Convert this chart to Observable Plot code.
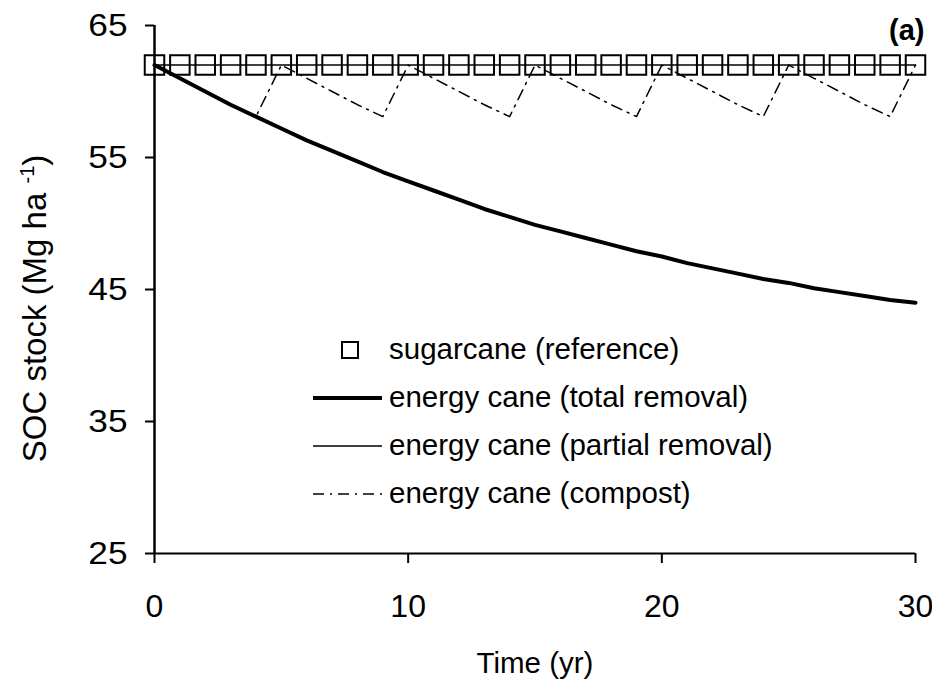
<!DOCTYPE html>
<html>
<head>
<meta charset="utf-8">
<script src="https://cdn.jsdelivr.net/npm/d3@7"></script>
<script src="https://cdn.jsdelivr.net/npm/@observablehq/plot@0.6"></script>
<style>
  body { margin: 0; background: white; }
  #wrap { position: relative; width: 932px; height: 688px; font-family: "Liberation Sans", Arial, sans-serif; }
  .leg { position: absolute; font-size: 29.5px; line-height: 30px; white-space: nowrap; color: #000; }
  .sw { position: absolute; }
</style>
</head>
<body>
<div id="wrap"></div>
<script>
const years = [0,1,2,3,4,5,6,7,8,9,10,11,12,13,14,15,16,17,18,19,20,21,22,23,24,25,26,27,28,29,30];
const sugarcane = [62,62,62,62,62,62,62,62,62,62,62,62,62,62,62,62,62,62,62,62,62,62,62,62,62,62,62,62,62,62,62];
const totalRemoval = [62.0,61.0,60.0,59.0,58.1,57.2,56.3,55.5,54.7,53.9,53.2,52.5,51.8,51.1,50.5,49.9,49.4,48.9,48.4,47.9,47.5,47.0,46.6,46.2,45.8,45.5,45.1,44.8,44.5,44.2,44.0];
const partialRemoval = [62,62,62,62,62,62,62,62,62,62,62,62,62,62,62,62,62,62,62,62,62,62,62,62,62,62,62,62,62,62,62];
const compost = [62.0,61.0,60.0,59.0,58.1,62.0,61.0,60.0,59.0,58.1,62.0,61.0,60.0,59.0,58.1,62.0,61.0,60.0,59.0,58.1,62.0,61.0,60.0,59.0,58.1,62.0,61.0,60.0,59.0,58.1,62.0];
const yTicks = [25,35,45,55,65];
const xTicks = [0,10,20,30];
const seriesNames = ["sugarcane (reference)","energy cane (total removal)","energy cane (partial removal)","energy cane (compost)"];
const xTitle = "Time (yr)";
const yTitle = "SOC stock (Mg ha-1)";
const panelLabel = "(a)";

const rows = years.map((t, i) => ({t, sug: sugarcane[i], tot: totalRemoval[i], par: partialRemoval[i], com: compost[i]}));

const chart = Plot.plot({
  width: 932,
  height: 688,
  marginLeft: 154,
  marginRight: 17,
  marginTop: 25,
  marginBottom: 135,
  style: {fontFamily: '"Liberation Sans", Arial, sans-serif', background: "white", color: "black"},
  x: {domain: [0, 30]},
  y: {domain: [25, 65]},
  marks: [
    Plot.axisY({ticks: yTicks, tickSize: 9, tickPadding: 18, fontSize: 32, strokeWidth: 2, label: null}),
    Plot.axisX({ticks: xTicks, tickSize: 10, tickPadding: 31, fontSize: 32, strokeWidth: 2, label: null}),
    Plot.ruleY([25], {stroke: "black", strokeWidth: 2}),
    Plot.ruleX([0], {stroke: "black", strokeWidth: 2.5}),
    Plot.line(rows, {x: "t", y: "par", stroke: "black", strokeWidth: 1.5}),
    Plot.line(rows, {x: "t", y: "com", stroke: "black", strokeWidth: 1.5, strokeDasharray: "11,6,2,6"}),
    Plot.line(rows, {x: "t", y: "tot", stroke: "black", strokeWidth: 4}),
    Plot.dot(rows, {x: "t", y: "sug", symbol: "square", r: 11, stroke: "black", strokeWidth: 2, fill: "none"}),
    Plot.text([xTitle], {frameAnchor: "bottom", dy: 110, fontSize: 29.5, lineAnchor: "middle", fill: "black"}),
    Plot.text([yTitle], {frameAnchor: "left", textAnchor: "middle", rotate: -90, dx: -119, dy: 19, fontSize: 33, lineAnchor: "middle", fill: "black"}),
    Plot.text([panelLabel], {frameAnchor: "top-right", textAnchor: "end", lineAnchor: "middle", dx: 9, dy: 5, fontSize: 29, fontWeight: "bold", fill: "black"})
  ]
});

// superscript for the unit
d3.select(chart).selectAll("text").each(function() {
  if (this.textContent === yTitle) {
    const t = d3.select(this);
    t.text(null);
    t.append("tspan").text("SOC stock (Mg ha ");
    t.append("tspan").attr("font-size", 20).attr("dy", -12).text("-1");
    t.append("tspan").attr("font-size", 33).attr("dy", 12).text(")");
  }
});

const wrap = document.getElementById("wrap");
wrap.appendChild(chart);

// y tick labels in the reference are slightly wider
d3.select(chart).selectAll('g[aria-label="y-axis tick label"] text').each(function() {
  const len = this.getComputedTextLength();
  this.setAttribute("textLength", (len * 1.1).toFixed(1));
  this.setAttribute("lengthAdjust", "spacingAndGlyphs");
});

// legend
const legendRows = [
  {cy: 350, kind: "square"},
  {cy: 398, kind: "thick"},
  {cy: 446, kind: "thin"},
  {cy: 494, kind: "dashdot"}
];
legendRows.forEach((r, i) => {
  const sw = document.createElementNS("http://www.w3.org/2000/svg", "svg");
  sw.setAttribute("class", "sw");
  sw.setAttribute("width", 80);
  sw.setAttribute("height", 24);
  sw.style.left = "308px";
  sw.style.top = (r.cy - 12) + "px";
  let inner = "";
  if (r.kind === "square") inner = '<rect x="34" y="4" width="16" height="16" fill="none" stroke="black" stroke-width="2"/>';
  if (r.kind === "thick") inner = '<line x1="5" x2="74" y1="12" y2="12" stroke="black" stroke-width="4"/>';
  if (r.kind === "thin") inner = '<line x1="5" x2="74" y1="12" y2="12" stroke="black" stroke-width="1.5"/>';
  if (r.kind === "dashdot") inner = '<line x1="5" x2="74" y1="12" y2="12" stroke="black" stroke-width="1.5" stroke-dasharray="11,6,2,6"/>';
  sw.innerHTML = inner;
  wrap.appendChild(sw);
  const lab = document.createElement("div");
  lab.className = "leg";
  lab.textContent = seriesNames[i];
  lab.style.left = "389px";
  lab.style.top = (r.cy - 16) + "px";
  wrap.appendChild(lab);
});
</script>
</body>
</html>
